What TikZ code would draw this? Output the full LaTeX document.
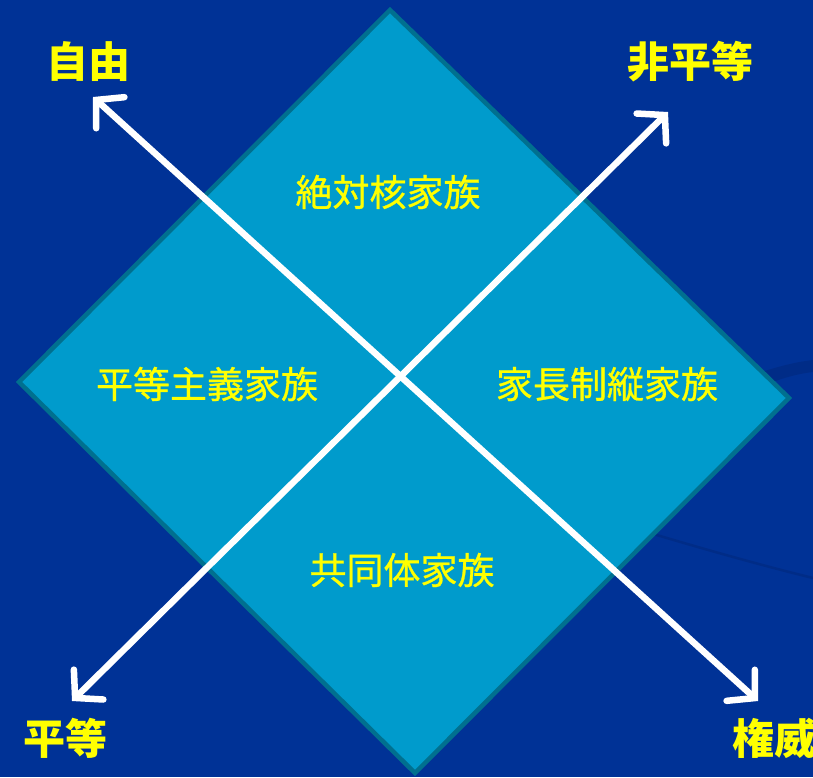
\documentclass[tikz,border=0pt]{standalone}
\usepackage{fontspec}
\newfontfamily\cjk{Noto Sans CJK JP}
\newfontfamily\cjkmed{Noto Sans CJK JP}[FakeBold=0.8]
\usetikzlibrary{arrows.meta}
\definecolor{bgblue}{RGB}{0,50,150}
\definecolor{bgdark}{RGB}{0,44,135}
\definecolor{dfill}{RGB}{0,155,204}
\definecolor{dedge}{RGB}{0,112,143}
\definecolor{lbl}{RGB}{255,255,0}
\tikzset{
  cornerlbl/.style={text=lbl, font=\cjk\bfseries\fontsize{42}{46}\selectfont, inner sep=0pt},
  innerlbl/.style={text=lbl, font=\cjkmed\fontsize{37}{42}\selectfont, inner sep=0pt},
  diamondbox/.style={fill=dfill, draw=dedge, line width=4.5pt, line join=miter},
  axis/.style={draw=white, line width=6.5pt,
    {Straight Barb[length=19pt,width=42pt,line cap=round]}-{Straight Barb[length=19pt,width=42pt,line cap=round]}},
  faint/.style={draw=bgdark, line width=3pt}
}
\begin{document}
\begin{tikzpicture}[x=1pt,y=-1pt]
\useasboundingbox (0,0) rectangle (813,777);
\fill[bgblue] (0,0) rectangle (813,777);
% faint background streaks
\fill[bgdark] (740,380) .. controls (770,368) and (795,362) .. (813,360) -- (813,372) .. controls (795,374) and (775,380) .. (760,388) -- cycle;
\draw[faint, line width=2.5pt] (640,530) .. controls (700,548) and (760,565) .. (813,578);
% diamond
\coordinate (dT) at (390,10);
\coordinate (dR) at (789,398);
\coordinate (dB) at (415,773);
\coordinate (dL) at (19,382);
\draw[diamondbox] (dT) -- (dR) -- (dB) -- (dL) -- cycle;
% axis end points
\coordinate (aFree) at (93,97);
\coordinate (aAuth) at (758,701);
\coordinate (aEq) at (72,701);
\coordinate (aNeq) at (668,112);
\draw[axis] (aFree) -- (aAuth);
\draw[axis] (aEq) -- (aNeq);
% corner labels
\node[cornerlbl] (free) at (88,62) {自由};
\node[cornerlbl] (neq) at (690,62) {非平等};
\node[cornerlbl] (eq) at (65,738) {平等};
\node[cornerlbl, anchor=west] (auth) at (732,738) {権威};
% inner labels
\node[innerlbl] (abs) at (388,192) {絶対核家族};
\node[innerlbl] (egal) at (207,384) {平等主義家族};
\node[innerlbl] (patr) at (607,384) {家長制縦家族};
\node[innerlbl] (comm) at (402,570) {共同体家族};
\end{tikzpicture}
\end{document}
